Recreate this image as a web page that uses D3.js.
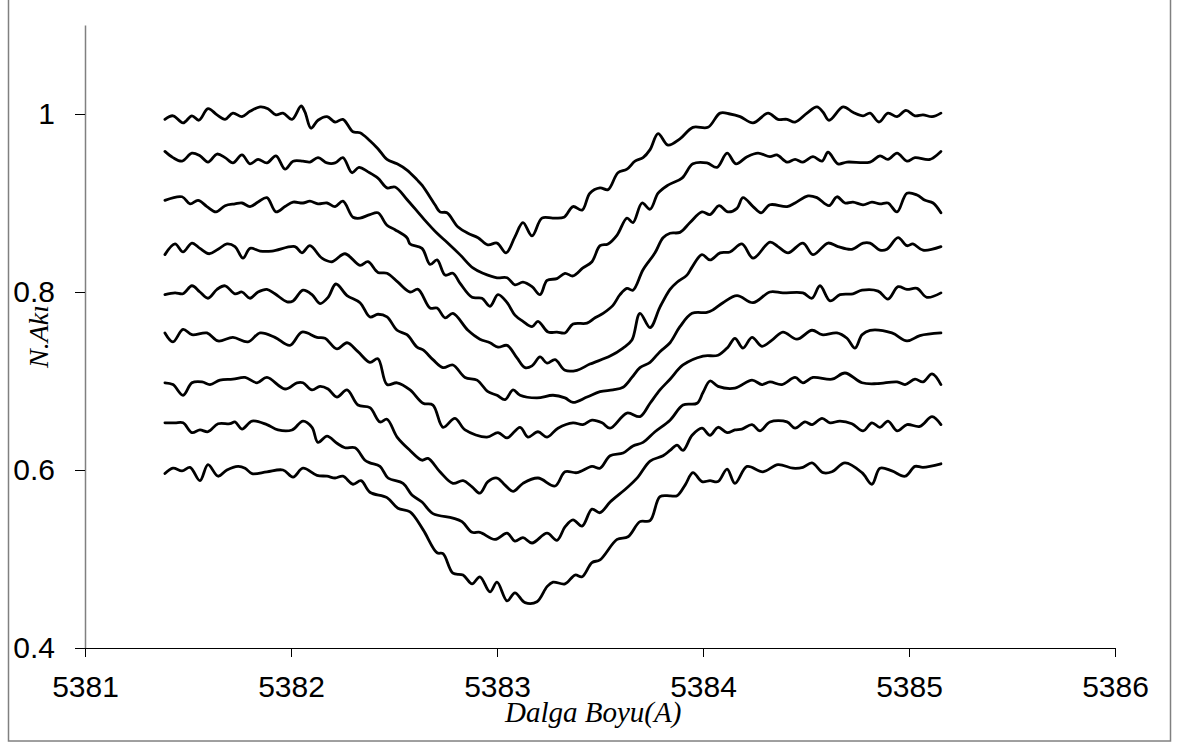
<!DOCTYPE html>
<html>
<head>
<meta charset="utf-8">
<script src="https://cdn.jsdelivr.net/npm/d3@7"></script>
<style>
  html, body { margin: 0; padding: 0; background: #fff; }
  svg { display: block; }
</style>
</head>
<body>
<svg id="chart" width="1179" height="744"></svg>
<script>
// ---- data (wavelength in Å, normalised flux) ----
const xTicks = [5381, 5382, 5383, 5384, 5385, 5386];
const yTicks = [0.4, 0.6, 0.8, 1];
const xTitle = "Dalga Boyu(A)";
const yTitle = "N.Akı";

const series1 = [[5381.388,0.994],[5381.427,0.998],[5381.476,0.990],[5381.519,0.998],[5381.553,0.993],[5381.597,1.006],[5381.641,0.999],[5381.680,0.994],[5381.718,1.001],[5381.762,0.997],[5381.801,1.003],[5381.850,1.008],[5381.888,1.006],[5381.927,0.999],[5381.961,1.001],[5382.005,0.994],[5382.049,1.009],[5382.068,1.002],[5382.097,0.984],[5382.131,0.993],[5382.175,0.997],[5382.214,0.991],[5382.252,0.994],[5382.301,0.980],[5382.335,0.979],[5382.383,0.970],[5382.422,0.961],[5382.466,0.949],[5382.515,0.944],[5382.563,0.937],[5382.612,0.926],[5382.636,0.920],[5382.699,0.898],[5382.723,0.890],[5382.757,0.889],[5382.811,0.873],[5382.859,0.866],[5382.908,0.861],[5382.956,0.853],[5383.000,0.855],[5383.044,0.844],[5383.087,0.862],[5383.126,0.878],[5383.170,0.863],[5383.218,0.883],[5383.272,0.883],[5383.325,0.884],[5383.369,0.896],[5383.413,0.892],[5383.451,0.911],[5383.500,0.917],[5383.539,0.915],[5383.587,0.934],[5383.631,0.938],[5383.670,0.947],[5383.709,0.951],[5383.743,0.960],[5383.782,0.978],[5383.830,0.965],[5383.888,0.972],[5383.951,0.985],[5384.024,0.985],[5384.083,1.001],[5384.131,1.000],[5384.180,0.997],[5384.243,0.990],[5384.316,1.001],[5384.364,0.994],[5384.408,0.994],[5384.447,0.991],[5384.505,1.001],[5384.553,1.008],[5384.583,1.002],[5384.612,0.993],[5384.680,1.008],[5384.728,1.002],[5384.777,0.998],[5384.811,1.001],[5384.854,0.991],[5384.898,1.001],[5384.942,0.997],[5384.985,1.004],[5385.029,0.998],[5385.068,0.999],[5385.112,0.997],[5385.155,1.001]];

const series2 = [[5381.388,0.958],[5381.427,0.951],[5381.471,0.947],[5381.519,0.956],[5381.558,0.953],[5381.597,0.946],[5381.641,0.955],[5381.680,0.951],[5381.718,0.945],[5381.762,0.954],[5381.801,0.944],[5381.840,0.949],[5381.883,0.945],[5381.927,0.953],[5381.971,0.938],[5382.010,0.947],[5382.058,0.947],[5382.092,0.946],[5382.131,0.951],[5382.175,0.945],[5382.214,0.945],[5382.252,0.951],[5382.296,0.934],[5382.330,0.940],[5382.374,0.935],[5382.422,0.928],[5382.466,0.917],[5382.505,0.918],[5382.563,0.904],[5382.641,0.883],[5382.709,0.866],[5382.757,0.856],[5382.820,0.842],[5382.883,0.827],[5382.932,0.821],[5383.000,0.816],[5383.049,0.816],[5383.087,0.808],[5383.126,0.811],[5383.170,0.806],[5383.209,0.797],[5383.243,0.813],[5383.291,0.815],[5383.330,0.821],[5383.369,0.818],[5383.417,0.827],[5383.461,0.834],[5383.500,0.852],[5383.539,0.854],[5383.583,0.864],[5383.631,0.883],[5383.660,0.878],[5383.704,0.900],[5383.743,0.893],[5383.782,0.911],[5383.830,0.920],[5383.898,0.928],[5383.951,0.944],[5384.019,0.945],[5384.068,0.940],[5384.117,0.956],[5384.160,0.944],[5384.214,0.952],[5384.267,0.956],[5384.325,0.952],[5384.359,0.954],[5384.408,0.946],[5384.447,0.949],[5384.485,0.946],[5384.534,0.952],[5384.578,0.947],[5384.607,0.957],[5384.655,0.944],[5384.699,0.946],[5384.811,0.946],[5384.859,0.953],[5384.898,0.949],[5384.942,0.956],[5384.990,0.947],[5385.029,0.951],[5385.102,0.949],[5385.155,0.958]];

const series3 = [[5381.388,0.903],[5381.471,0.907],[5381.510,0.899],[5381.549,0.903],[5381.592,0.896],[5381.636,0.890],[5381.680,0.897],[5381.728,0.899],[5381.762,0.900],[5381.801,0.896],[5381.840,0.901],[5381.883,0.906],[5381.927,0.890],[5381.971,0.896],[5382.010,0.901],[5382.058,0.900],[5382.092,0.902],[5382.131,0.899],[5382.175,0.900],[5382.214,0.896],[5382.252,0.902],[5382.301,0.884],[5382.335,0.883],[5382.383,0.887],[5382.422,0.889],[5382.466,0.875],[5382.505,0.870],[5382.563,0.861],[5382.578,0.854],[5382.636,0.849],[5382.675,0.831],[5382.709,0.836],[5382.748,0.819],[5382.786,0.821],[5382.820,0.810],[5382.879,0.794],[5382.927,0.793],[5382.966,0.784],[5383.005,0.797],[5383.049,0.788],[5383.087,0.774],[5383.126,0.767],[5383.170,0.761],[5383.199,0.767],[5383.248,0.755],[5383.291,0.755],[5383.330,0.754],[5383.369,0.764],[5383.437,0.765],[5383.476,0.771],[5383.515,0.776],[5383.563,0.785],[5383.597,0.797],[5383.631,0.804],[5383.660,0.802],[5383.709,0.825],[5383.767,0.844],[5383.806,0.861],[5383.840,0.866],[5383.888,0.867],[5383.937,0.878],[5383.995,0.890],[5384.034,0.887],[5384.078,0.897],[5384.121,0.890],[5384.165,0.894],[5384.194,0.906],[5384.243,0.896],[5384.282,0.889],[5384.325,0.898],[5384.408,0.896],[5384.447,0.900],[5384.510,0.908],[5384.553,0.906],[5384.612,0.897],[5384.650,0.907],[5384.689,0.900],[5384.728,0.901],[5384.777,0.898],[5384.820,0.901],[5384.859,0.899],[5384.898,0.900],[5384.942,0.890],[5384.990,0.911],[5385.039,0.909],[5385.078,0.903],[5385.117,0.900],[5385.155,0.889]];

const series4 = [[5381.388,0.842],[5381.437,0.854],[5381.476,0.845],[5381.519,0.855],[5381.558,0.849],[5381.602,0.843],[5381.646,0.848],[5381.689,0.854],[5381.728,0.851],[5381.767,0.838],[5381.801,0.849],[5381.850,0.846],[5381.908,0.846],[5382.019,0.851],[5382.053,0.844],[5382.092,0.852],[5382.150,0.838],[5382.199,0.834],[5382.262,0.843],[5382.335,0.830],[5382.374,0.834],[5382.422,0.822],[5382.466,0.821],[5382.519,0.811],[5382.578,0.800],[5382.617,0.803],[5382.675,0.782],[5382.709,0.782],[5382.748,0.771],[5382.786,0.776],[5382.859,0.757],[5382.917,0.747],[5382.966,0.743],[5383.005,0.738],[5383.049,0.740],[5383.097,0.726],[5383.136,0.715],[5383.170,0.717],[5383.209,0.727],[5383.243,0.720],[5383.282,0.724],[5383.330,0.712],[5383.388,0.712],[5383.451,0.719],[5383.549,0.728],[5383.612,0.737],[5383.655,0.746],[5383.694,0.776],[5383.743,0.760],[5383.791,0.783],[5383.840,0.803],[5383.874,0.811],[5383.922,0.819],[5383.947,0.828],[5383.995,0.842],[5384.034,0.836],[5384.083,0.844],[5384.131,0.845],[5384.189,0.854],[5384.243,0.838],[5384.325,0.856],[5384.364,0.851],[5384.413,0.844],[5384.485,0.855],[5384.534,0.842],[5384.607,0.855],[5384.655,0.851],[5384.723,0.848],[5384.777,0.855],[5384.811,0.855],[5384.859,0.847],[5384.893,0.848],[5384.947,0.861],[5384.990,0.852],[5385.019,0.854],[5385.068,0.847],[5385.155,0.851]];

const series5 = [[5381.388,0.797],[5381.437,0.799],[5381.476,0.798],[5381.519,0.807],[5381.558,0.800],[5381.597,0.793],[5381.641,0.803],[5381.680,0.807],[5381.728,0.798],[5381.762,0.800],[5381.801,0.793],[5381.840,0.800],[5381.883,0.803],[5381.922,0.798],[5381.981,0.789],[5382.010,0.790],[5382.058,0.802],[5382.102,0.797],[5382.141,0.787],[5382.180,0.794],[5382.218,0.809],[5382.272,0.796],[5382.335,0.788],[5382.383,0.772],[5382.422,0.775],[5382.466,0.772],[5382.515,0.757],[5382.563,0.752],[5382.612,0.738],[5382.641,0.735],[5382.689,0.724],[5382.738,0.715],[5382.786,0.718],[5382.845,0.704],[5382.903,0.701],[5382.956,0.688],[5383.000,0.684],[5383.039,0.679],[5383.078,0.690],[5383.112,0.684],[5383.194,0.681],[5383.272,0.684],[5383.330,0.681],[5383.369,0.676],[5383.437,0.682],[5383.500,0.688],[5383.563,0.690],[5383.612,0.693],[5383.655,0.704],[5383.694,0.715],[5383.743,0.721],[5383.791,0.733],[5383.840,0.743],[5383.888,0.761],[5383.947,0.776],[5384.019,0.777],[5384.049,0.780],[5384.097,0.788],[5384.165,0.796],[5384.243,0.788],[5384.325,0.800],[5384.388,0.799],[5384.485,0.799],[5384.529,0.793],[5384.568,0.807],[5384.617,0.790],[5384.665,0.797],[5384.728,0.798],[5384.772,0.802],[5384.850,0.801],[5384.898,0.792],[5384.947,0.806],[5384.990,0.803],[5385.039,0.804],[5385.087,0.794],[5385.155,0.799]];

const series6 = [[5381.388,0.754],[5381.427,0.744],[5381.476,0.758],[5381.519,0.752],[5381.592,0.754],[5381.646,0.745],[5381.718,0.749],[5381.791,0.744],[5381.850,0.754],[5381.922,0.749],[5381.995,0.740],[5382.053,0.755],[5382.126,0.749],[5382.165,0.748],[5382.223,0.736],[5382.272,0.743],[5382.325,0.733],[5382.383,0.721],[5382.422,0.725],[5382.466,0.696],[5382.515,0.698],[5382.578,0.690],[5382.641,0.675],[5382.689,0.673],[5382.738,0.648],[5382.796,0.658],[5382.845,0.645],[5382.951,0.637],[5383.005,0.642],[5383.049,0.636],[5383.112,0.648],[5383.150,0.637],[5383.199,0.643],[5383.243,0.637],[5383.296,0.647],[5383.369,0.653],[5383.417,0.651],[5383.461,0.656],[5383.510,0.653],[5383.549,0.647],[5383.631,0.664],[5383.694,0.660],[5383.743,0.675],[5383.791,0.690],[5383.840,0.702],[5383.903,0.718],[5384.000,0.728],[5384.073,0.729],[5384.121,0.738],[5384.155,0.748],[5384.194,0.737],[5384.238,0.749],[5384.286,0.739],[5384.335,0.746],[5384.388,0.755],[5384.456,0.747],[5384.529,0.757],[5384.578,0.752],[5384.650,0.754],[5384.699,0.748],[5384.738,0.737],[5384.772,0.752],[5384.811,0.757],[5384.917,0.754],[5384.990,0.745],[5385.053,0.751],[5385.155,0.754]];

const series7 = [[5381.388,0.698],[5381.427,0.696],[5381.476,0.684],[5381.519,0.698],[5381.568,0.699],[5381.607,0.696],[5381.655,0.701],[5381.718,0.702],[5381.777,0.704],[5381.835,0.698],[5381.883,0.704],[5381.971,0.691],[5382.029,0.698],[5382.058,0.698],[5382.102,0.690],[5382.141,0.694],[5382.180,0.691],[5382.223,0.682],[5382.272,0.690],[5382.325,0.673],[5382.383,0.670],[5382.432,0.654],[5382.466,0.657],[5382.515,0.637],[5382.578,0.622],[5382.636,0.611],[5382.665,0.613],[5382.723,0.598],[5382.786,0.585],[5382.835,0.588],[5382.879,0.581],[5382.917,0.574],[5382.956,0.587],[5383.000,0.591],[5383.039,0.583],[5383.078,0.576],[5383.126,0.585],[5383.199,0.591],[5383.282,0.582],[5383.330,0.598],[5383.388,0.597],[5383.461,0.604],[5383.500,0.602],[5383.549,0.616],[5383.612,0.619],[5383.660,0.627],[5383.709,0.631],[5383.767,0.643],[5383.840,0.656],[5383.903,0.673],[5383.971,0.675],[5384.000,0.687],[5384.034,0.700],[5384.073,0.694],[5384.155,0.692],[5384.238,0.701],[5384.286,0.696],[5384.325,0.699],[5384.383,0.696],[5384.447,0.704],[5384.485,0.698],[5384.534,0.704],[5384.626,0.702],[5384.689,0.709],[5384.772,0.698],[5384.845,0.697],[5384.942,0.699],[5384.981,0.696],[5385.029,0.702],[5385.068,0.699],[5385.112,0.708],[5385.155,0.696]];

const series8 = [[5381.388,0.653],[5381.437,0.653],[5381.476,0.653],[5381.519,0.642],[5381.558,0.645],[5381.597,0.643],[5381.646,0.652],[5381.704,0.652],[5381.728,0.654],[5381.762,0.646],[5381.811,0.655],[5381.883,0.651],[5381.937,0.645],[5382.005,0.645],[5382.058,0.655],[5382.102,0.648],[5382.131,0.631],[5382.175,0.638],[5382.223,0.630],[5382.262,0.625],[5382.311,0.625],[5382.359,0.611],[5382.383,0.608],[5382.432,0.604],[5382.471,0.591],[5382.544,0.585],[5382.587,0.572],[5382.636,0.564],[5382.689,0.551],[5382.786,0.546],[5382.830,0.542],[5382.879,0.530],[5382.917,0.530],[5382.990,0.522],[5383.049,0.529],[5383.087,0.520],[5383.126,0.524],[5383.170,0.518],[5383.243,0.529],[5383.291,0.521],[5383.330,0.536],[5383.369,0.544],[5383.413,0.537],[5383.461,0.556],[5383.500,0.552],[5383.549,0.564],[5383.631,0.580],[5383.684,0.592],[5383.743,0.610],[5383.806,0.616],[5383.840,0.622],[5383.874,0.628],[5383.903,0.622],[5383.947,0.639],[5383.995,0.647],[5384.034,0.639],[5384.073,0.648],[5384.117,0.642],[5384.155,0.645],[5384.189,0.646],[5384.238,0.651],[5384.277,0.644],[5384.325,0.654],[5384.408,0.654],[5384.447,0.647],[5384.495,0.654],[5384.529,0.651],[5384.578,0.658],[5384.617,0.653],[5384.665,0.655],[5384.723,0.652],[5384.777,0.644],[5384.820,0.653],[5384.859,0.648],[5384.898,0.655],[5384.942,0.644],[5384.990,0.651],[5385.053,0.649],[5385.112,0.660],[5385.155,0.651]];

const series9 = [[5381.388,0.596],[5381.427,0.602],[5381.471,0.599],[5381.510,0.603],[5381.558,0.588],[5381.597,0.606],[5381.646,0.593],[5381.689,0.600],[5381.743,0.604],[5381.777,0.602],[5381.811,0.596],[5381.883,0.598],[5381.961,0.600],[5382.010,0.592],[5382.058,0.602],[5382.126,0.594],[5382.175,0.593],[5382.214,0.591],[5382.252,0.593],[5382.301,0.584],[5382.340,0.588],[5382.383,0.575],[5382.466,0.569],[5382.519,0.557],[5382.578,0.553],[5382.641,0.533],[5382.709,0.507],[5382.738,0.506],[5382.786,0.484],[5382.835,0.482],[5382.879,0.472],[5382.917,0.480],[5382.966,0.463],[5383.000,0.474],[5383.049,0.453],[5383.087,0.462],[5383.136,0.451],[5383.194,0.452],[5383.243,0.469],[5383.272,0.474],[5383.330,0.472],[5383.379,0.482],[5383.413,0.480],[5383.461,0.496],[5383.500,0.499],[5383.583,0.522],[5383.636,0.525],[5383.694,0.542],[5383.743,0.543],[5383.791,0.570],[5383.840,0.571],[5383.874,0.571],[5383.913,0.583],[5383.951,0.597],[5383.995,0.587],[5384.034,0.588],[5384.073,0.587],[5384.117,0.601],[5384.155,0.585],[5384.214,0.604],[5384.291,0.598],[5384.364,0.606],[5384.437,0.602],[5384.485,0.603],[5384.529,0.608],[5384.583,0.597],[5384.626,0.598],[5384.689,0.608],[5384.772,0.597],[5384.820,0.584],[5384.859,0.602],[5384.917,0.599],[5384.981,0.593],[5385.029,0.604],[5385.068,0.603],[5385.155,0.607]];

const allSeries = [series1, series2, series3, series4, series5, series6, series7, series8, series9];

// ---- drawing ----
const svg = d3.select("#chart");

const x = d3.scaleLinear().domain([5381, 5386]).range([85, 1115]);
const y = d3.scaleLinear().domain([0.4, 1.1]).range([648, 25]);

// outer frame
svg.append("rect")
  .attr("x", 8.5).attr("y", -2)
  .attr("width", 1162).attr("height", 743)
  .attr("fill", "none").attr("stroke", "#808080").attr("stroke-width", 1.5);

// y axis
const yAxis = d3.axisLeft(y).tickValues(yTicks).tickSize(10).tickSizeOuter(0)
  .tickPadding(20).tickFormat(d3.format(""));
const gy = svg.append("g").attr("transform", `translate(${x(5381)},0)`).call(yAxis);
gy.select(".domain").attr("stroke", "#808080").attr("stroke-width", 1.5);
gy.selectAll(".tick line").attr("stroke", "#000").attr("stroke-width", 1);
gy.selectAll(".tick text").attr("font-family", "'Liberation Sans', Arial, sans-serif")
  .attr("font-size", 30).attr("fill", "#000");

// x axis
const xAxis = d3.axisBottom(x).tickValues(xTicks).tickSize(9).tickSizeOuter(0)
  .tickPadding(19).tickFormat(d3.format("d"));
const gx = svg.append("g").attr("transform", `translate(0,${y(0.4)})`).call(xAxis);
gx.select(".domain").attr("stroke", "#000").attr("stroke-width", 1.2);
gx.selectAll(".tick line").attr("stroke", "#000").attr("stroke-width", 1);
gx.selectAll(".tick text").attr("font-family", "'Liberation Sans', Arial, sans-serif")
  .attr("font-size", 30).attr("fill", "#000");

// titles
svg.append("text")
  .attr("x", 505).attr("y", 722)
  .attr("font-family", "'Liberation Serif', 'Times New Roman', serif")
  .attr("font-style", "italic").attr("font-size", 29)
  .attr("fill", "#000")
  .text(xTitle);

svg.append("text")
  .attr("transform", `translate(48,${(y(0.4)+y(1.1))/2}) rotate(-90)`)
  .attr("text-anchor", "middle")
  .attr("font-family", "'Liberation Serif', 'Times New Roman', serif")
  .attr("font-style", "italic").attr("font-size", 28)
  .attr("fill", "#000")
  .text(yTitle);

// spectra
const line = d3.line()
  .x(d => x(d[0]))
  .y(d => y(d[1]))
  .curve(d3.curveCatmullRom.alpha(0.5));

svg.append("g").selectAll("path")
  .data(allSeries)
  .join("path")
  .attr("d", line)
  .attr("fill", "none")
  .attr("stroke", "#000")
  .attr("stroke-width", 2.8)
  .attr("stroke-linejoin", "round")
  .attr("stroke-linecap", "round");
</script>
</body>
</html>
